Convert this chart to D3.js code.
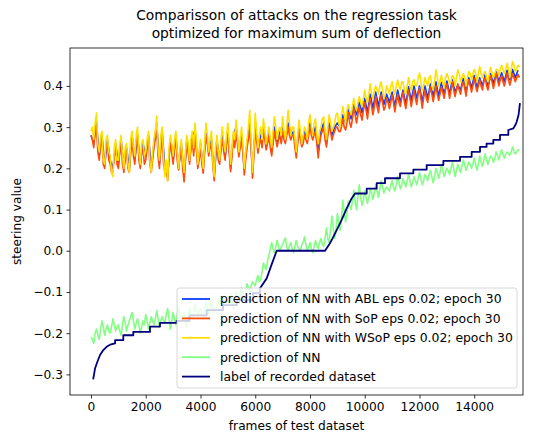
<!DOCTYPE html>
<html>
<head>
<meta charset="utf-8">
<script src="https://cdn.jsdelivr.net/npm/d3@7/dist/d3.min.js"></script>
<style>
    body { margin: 0; background: #fff; }
    svg text { font-family: "DejaVu Sans", sans-serif; fill: #000; }
</style>
</head>
<body>
<svg id="chart" width="539" height="434"></svg>
<script>
// ABL is read every 100 frames (0 .. 15600), the others every 50 frames (0 .. 15650)
const ablStep = 100;
const denseStep = 50;

const ablValues = [
    0.28, 0.26, 0.31, 0.23, 0.28, 0.21, 0.27, 0.22, 0.20, 0.26,
    0.21, 0.27, 0.20, 0.25, 0.20, 0.28, 0.22, 0.28, 0.21, 0.26,
    0.23, 0.28, 0.20, 0.26, 0.31, 0.21, 0.29, 0.20, 0.18, 0.27,
    0.22, 0.28, 0.20, 0.26, 0.18, 0.27, 0.22, 0.28, 0.29, 0.21,
    0.26, 0.20, 0.29, 0.24, 0.27, 0.18, 0.27, 0.22, 0.28, 0.23,
    0.29, 0.20, 0.28, 0.30, 0.24, 0.28, 0.20, 0.26, 0.31, 0.19,
    0.30, 0.25, 0.28, 0.30, 0.26, 0.29, 0.24, 0.30, 0.26, 0.29,
    0.30, 0.27, 0.31, 0.28, 0.29, 0.24, 0.30, 0.26, 0.29, 0.27,
    0.31, 0.28, 0.30, 0.24, 0.29, 0.31, 0.26, 0.31, 0.28, 0.30,
    0.31, 0.30, 0.33, 0.31, 0.346, 0.32, 0.355, 0.33, 0.36, 0.335,
    0.37, 0.335, 0.38, 0.345, 0.385, 0.35, 0.385, 0.355, 0.38, 0.36,
    0.385, 0.35, 0.39, 0.36, 0.39, 0.355, 0.398, 0.365, 0.40, 0.37,
    0.40, 0.36, 0.40, 0.37, 0.405, 0.375, 0.41, 0.375, 0.408, 0.38,
    0.412, 0.38, 0.415, 0.385, 0.402, 0.39, 0.418, 0.385, 0.42, 0.395,
    0.425, 0.395, 0.42, 0.40, 0.428, 0.40, 0.43, 0.405, 0.434, 0.41,
    0.432, 0.41, 0.438, 0.415, 0.44, 0.42, 0.438,
];

const sopValues = [
    0.28, 0.27, 0.25, 0.29, 0.30, 0.24, 0.22, 0.26, 0.27, 0.21, 0.20, 0.25, 0.26, 0.22, 0.21, 0.19, 0.19, 0.23, 0.25, 0.21,
    0.20, 0.24, 0.26, 0.21, 0.19, 0.23, 0.24, 0.20, 0.19, 0.25, 0.27, 0.23, 0.21, 0.26, 0.28, 0.22, 0.20, 0.24, 0.25, 0.21,
    0.22, 0.25, 0.27, 0.21, 0.19, 0.22, 0.25, 0.27, 0.30, 0.23, 0.20, 0.26, 0.28, 0.21, 0.19, 0.20, 0.17, 0.23, 0.26, 0.24,
    0.21, 0.25, 0.27, 0.22, 0.196, 0.23, 0.25, 0.20, 0.167, 0.22, 0.26, 0.24, 0.21, 0.25, 0.27, 0.23, 0.28, 0.25, 0.20, 0.22,
    0.25, 0.21, 0.188, 0.24, 0.28, 0.26, 0.23, 0.25, 0.26, 0.21, 0.17, 0.23, 0.26, 0.22, 0.21, 0.25, 0.27, 0.24, 0.22, 0.26,
    0.28, 0.24, 0.192, 0.23, 0.27, 0.25, 0.29, 0.26, 0.228, 0.25, 0.27, 0.24, 0.184, 0.22, 0.25, 0.27, 0.30, 0.25, 0.176, 0.23,
    0.29, 0.27, 0.237, 0.26, 0.27, 0.25, 0.29, 0.27, 0.245, 0.26, 0.28, 0.25, 0.23, 0.26, 0.29, 0.27, 0.252, 0.27, 0.28, 0.26,
    0.29, 0.27, 0.26, 0.28, 0.30, 0.28, 0.269, 0.28, 0.28, 0.25, 0.225, 0.26, 0.29, 0.27, 0.252, 0.26, 0.28, 0.27, 0.26, 0.28,
    0.30, 0.28, 0.269, 0.28, 0.29, 0.26, 0.225, 0.26, 0.28, 0.29, 0.30, 0.27, 0.252, 0.28, 0.30, 0.29, 0.269, 0.28, 0.29, 0.30,
    0.30, 0.29, 0.289, 0.30, 0.32, 0.30, 0.293, 0.31, 0.335, 0.31, 0.30, 0.32, 0.346, 0.33, 0.31, 0.33, 0.35, 0.33, 0.317, 0.34,
    0.36, 0.34, 0.32, 0.35, 0.37, 0.35, 0.33, 0.35, 0.375, 0.35, 0.335, 0.36, 0.378, 0.36, 0.341, 0.35, 0.37, 0.36, 0.345, 0.36,
    0.378, 0.36, 0.337, 0.36, 0.38, 0.36, 0.35, 0.37, 0.385, 0.36, 0.345, 0.37, 0.39, 0.37, 0.35, 0.37, 0.39, 0.37, 0.355, 0.38,
    0.395, 0.37, 0.346, 0.37, 0.39, 0.37, 0.36, 0.38, 0.398, 0.38, 0.362, 0.38, 0.40, 0.38, 0.365, 0.38, 0.398, 0.385, 0.37, 0.39,
    0.405, 0.39, 0.37, 0.39, 0.41, 0.39, 0.374, 0.39, 0.405, 0.39, 0.38, 0.40, 0.41, 0.395, 0.375, 0.40, 0.415, 0.40, 0.385, 0.40,
    0.419, 0.40, 0.386, 0.40, 0.415, 0.40, 0.39, 0.41, 0.42, 0.40, 0.39, 0.41, 0.425, 0.41, 0.394, 0.41, 0.431, 0.415, 0.40, 0.415,
    0.425, 0.41, 0.40, 0.415, 0.431, 0.415, 0.402, 0.415, 0.43, 0.42, 0.41, 0.42, 0.428, 0.42,
];

const wsopValues = [
    0.29, 0.30, 0.27, 0.31, 0.334, 0.26, 0.24, 0.28, 0.29, 0.22, 0.21, 0.27, 0.28, 0.24, 0.23, 0.19, 0.18, 0.25, 0.27, 0.22,
    0.22, 0.26, 0.28, 0.23, 0.20, 0.25, 0.26, 0.21, 0.19, 0.27, 0.29, 0.25, 0.23, 0.28, 0.30, 0.24, 0.21, 0.26, 0.27, 0.23,
    0.24, 0.27, 0.29, 0.22, 0.19, 0.24, 0.27, 0.29, 0.327, 0.25, 0.22, 0.28, 0.30, 0.23, 0.18, 0.22, 0.17, 0.25, 0.28, 0.26,
    0.23, 0.27, 0.29, 0.24, 0.20, 0.25, 0.27, 0.22, 0.19, 0.24, 0.28, 0.26, 0.22, 0.27, 0.29, 0.25, 0.31, 0.27, 0.21, 0.24,
    0.27, 0.23, 0.20, 0.26, 0.31, 0.28, 0.24, 0.27, 0.29, 0.22, 0.18, 0.25, 0.28, 0.24, 0.22, 0.27, 0.30, 0.26, 0.24, 0.28,
    0.31, 0.26, 0.21, 0.25, 0.29, 0.27, 0.317, 0.28, 0.24, 0.27, 0.30, 0.26, 0.20, 0.24, 0.27, 0.30, 0.341, 0.27, 0.19, 0.25,
    0.334, 0.29, 0.25, 0.28, 0.30, 0.27, 0.32, 0.29, 0.26, 0.28, 0.30, 0.27, 0.25, 0.29, 0.325, 0.30, 0.27, 0.29, 0.30, 0.28,
    0.325, 0.29, 0.27, 0.30, 0.341, 0.31, 0.28, 0.30, 0.30, 0.27, 0.24, 0.28, 0.317, 0.29, 0.26, 0.28, 0.30, 0.29, 0.27, 0.31,
    0.33, 0.30, 0.28, 0.31, 0.32, 0.28, 0.26, 0.29, 0.30, 0.32, 0.325, 0.29, 0.27, 0.30, 0.33, 0.31, 0.29, 0.30, 0.31, 0.33,
    0.334, 0.31, 0.30, 0.33, 0.35, 0.33, 0.31, 0.34, 0.355, 0.34, 0.33, 0.35, 0.37, 0.35, 0.34, 0.36, 0.374, 0.36, 0.35, 0.37,
    0.39, 0.37, 0.36, 0.38, 0.405, 0.38, 0.37, 0.39, 0.40, 0.39, 0.38, 0.40, 0.41, 0.39, 0.37, 0.38, 0.40, 0.39, 0.38, 0.40,
    0.41, 0.39, 0.38, 0.40, 0.414, 0.40, 0.39, 0.41, 0.41, 0.39, 0.38, 0.40, 0.42, 0.40, 0.39, 0.41, 0.415, 0.40, 0.40, 0.42,
    0.431, 0.41, 0.39, 0.40, 0.42, 0.41, 0.40, 0.42, 0.425, 0.40, 0.39, 0.41, 0.439, 0.42, 0.40, 0.41, 0.426, 0.41, 0.395, 0.42,
    0.43, 0.42, 0.405, 0.41, 0.425, 0.42, 0.40, 0.42, 0.439, 0.43, 0.41, 0.42, 0.43, 0.42, 0.40, 0.42, 0.435, 0.43, 0.415, 0.43,
    0.44, 0.43, 0.41, 0.43, 0.447, 0.43, 0.42, 0.43, 0.435, 0.42, 0.41, 0.43, 0.445, 0.43, 0.42, 0.43, 0.44, 0.44, 0.425, 0.44,
    0.45, 0.44, 0.43, 0.44, 0.455, 0.44, 0.42, 0.44, 0.459, 0.45, 0.435, 0.44, 0.45, 0.445,
];

const nnValues = [
    -0.21, -0.215, -0.225, -0.20, -0.19, -0.205, -0.215, -0.19, -0.17, -0.185, -0.205, -0.19, -0.18, -0.195, -0.2, -0.185, -0.165, -0.18, -0.195, -0.185,
    -0.18, -0.195, -0.205, -0.18, -0.16, -0.175, -0.195, -0.18, -0.17, -0.16, -0.15, -0.17, -0.19, -0.175, -0.165, -0.18, -0.2, -0.185, -0.17, -0.18,
    -0.155, -0.17, -0.19, -0.175, -0.16, -0.17, -0.18, -0.165, -0.145, -0.165, -0.185, -0.17, -0.16, -0.17, -0.175, -0.155, -0.14, -0.165, -0.19, -0.17,
    -0.15, -0.165, -0.18, -0.155, -0.135, -0.155, -0.17, -0.16, -0.15, -0.17, -0.185, -0.16, -0.14, -0.155, -0.165, -0.15, -0.13, -0.145, -0.16, -0.15,
    -0.14, -0.155, -0.165, -0.145, -0.125, -0.14, -0.155, -0.14, -0.12, -0.135, -0.15, -0.14, -0.135, -0.125, -0.11, -0.13, -0.145, -0.13, -0.12, -0.125,
    -0.13, -0.115, -0.105, -0.125, -0.14, -0.12, -0.1, -0.11, -0.12, -0.105, -0.09, -0.1, -0.115, -0.1, -0.08, -0.09, -0.1, -0.085, -0.075, -0.08,
    -0.085, -0.07, -0.06, -0.075, -0.07, -0.05, -0.03, -0.04, -0.045, -0.025, -0.01, 0.005, 0.02, 0.005, -0.005, 0.01, 0.025, 0.01, 0.0, 0.01,
    0.015, 0.025, 0.031, 0.01, 0.0, 0.012, 0.02, 0.005, -0.005, 0.01, 0.025, 0.01, 0.005, 0.0, 0.015, 0.02, 0.034, 0.015, 0.0, 0.008,
    0.02, 0.005, -0.005, 0.01, 0.025, 0.012, 0.005, 0.02, 0.03, 0.015, 0.01, 0.03, 0.055, 0.03, 0.02, 0.05, 0.084, 0.055, 0.03, 0.05,
    0.09, 0.07, 0.05, 0.08, 0.123, 0.095, 0.07, 0.09, 0.12, 0.11, 0.1, 0.12, 0.147, 0.12, 0.1, 0.13, 0.16, 0.13, 0.11, 0.125,
    0.145, 0.13, 0.115, 0.13, 0.15, 0.14, 0.125, 0.14, 0.16, 0.145, 0.13, 0.15, 0.17, 0.155, 0.14, 0.15, 0.155, 0.15, 0.145, 0.16,
    0.17, 0.155, 0.145, 0.16, 0.18, 0.165, 0.15, 0.16, 0.175, 0.165, 0.155, 0.17, 0.185, 0.17, 0.155, 0.165, 0.18, 0.17, 0.16, 0.175,
    0.19, 0.175, 0.16, 0.17, 0.185, 0.18, 0.17, 0.185, 0.195, 0.18, 0.165, 0.18, 0.2, 0.19, 0.176, 0.19, 0.21, 0.195, 0.18, 0.19,
    0.2, 0.195, 0.185, 0.2, 0.215, 0.2, 0.18, 0.195, 0.21, 0.2, 0.19, 0.205, 0.22, 0.21, 0.195, 0.205, 0.215, 0.21, 0.2, 0.21,
    0.225, 0.21, 0.196, 0.21, 0.23, 0.215, 0.205, 0.22, 0.235, 0.22, 0.21, 0.22, 0.23, 0.225, 0.215, 0.225, 0.24, 0.23, 0.22, 0.235,
    0.245, 0.235, 0.225, 0.235, 0.24, 0.235, 0.232, 0.24, 0.252, 0.24, 0.235, 0.24, 0.245, 0.243,
];

// recorded label: a staircase, given as its own corner points
const labelFrames = [
    80, 150, 230, 330, 450, 570, 700, 880, 880, 1180, 1180, 1545, 1545,
    2155, 2155, 2520, 2520, 3130, 3130, 3600, 3600, 4227, 4227, 4822, 4822,
    5322, 5322, 5918, 5918, 6174, 6174, 6418, 6600, 6783, 8548, 8700, 8792,
    8974, 9157, 9340, 9522, 9644, 10072, 10072, 10437, 10437, 10740, 10740,
    11288, 11288, 11775, 11775, 12262, 12262, 12871, 12871, 13480, 13480,
    13906, 13906, 14210, 14210, 14450, 14450, 14697, 14697, 14941, 14941,
    15245, 15245, 15430, 15500, 15552, 15620, 15670,
];
const labelValues = [
    -0.312, -0.285, -0.27, -0.253, -0.241, -0.233, -0.228, -0.225, -0.217, -0.217, -0.205, -0.205, -0.197,
    -0.197, -0.184, -0.184, -0.175, -0.175, -0.17, -0.17, -0.157, -0.157, -0.144, -0.144, -0.132,
    -0.132, -0.12, -0.12, -0.103, -0.103, -0.091, -0.067, -0.033, 0.0, 0.0, 0.015, 0.026,
    0.05, 0.075, 0.103, 0.127, 0.139, 0.139, 0.151, 0.151, 0.164, 0.164, 0.176,
    0.176, 0.188, 0.188, 0.197, 0.197, 0.208, 0.208, 0.218, 0.218, 0.228,
    0.228, 0.24, 0.24, 0.252, 0.252, 0.26, 0.26, 0.269, 0.269, 0.281,
    0.281, 0.293, 0.297, 0.305, 0.313, 0.33, 0.358,
];

const xTicks = [0, 2000, 4000, 6000, 8000, 10000, 12000, 14000];
const yTicks = [-0.3, -0.2, -0.1, 0.0, 0.1, 0.2, 0.3, 0.4];

const seriesNames = [
    'prediction of NN with ABL eps 0.02; epoch 30',
    'prediction of NN with SoP eps 0.02; epoch 30',
    'prediction of NN with WSoP eps 0.02; epoch 30',
    'prediction of NN',
    'label of recorded dataset',
];
const seriesColors = ['#0a3cff', '#ff4b0a', '#ffdf00', '#80ff80', '#00007f'];

const plot = { left: 70, right: 523, top: 48, bottom: 395 };
const svg = d3.select('#chart');

const xScale = d3.scaleLinear([-767, 15781], [plot.left, plot.right]);
const yScale = d3.scaleLinear([-0.35, 0.492], [plot.bottom, plot.top]);

const toPoints = (vals, step) => vals.map((v, i) => [i * step, v]);
const allSeries = [
    toPoints(ablValues, ablStep),
    toPoints(sopValues, denseStep),
    toPoints(wsopValues, denseStep),
    toPoints(nnValues, denseStep),
    labelValues.map((v, i) => [labelFrames[i], v]),
];

svg.append('clipPath').attr('id', 'clip').
append('rect').
attr('x', plot.left).attr('y', plot.top).
attr('width', plot.right - plot.left).attr('height', plot.bottom - plot.top);

const line = d3.line().x(d => xScale(d[0])).y(d => yScale(d[1]));

// Lines, drawn in legend order
svg.append('g').attr('clip-path', 'url(#clip)').
selectAll('path').
data(allSeries).
enter().
append('path').
attr('d', d => line(d)).
attr('fill', 'none').
attr('stroke', (d, i) => seriesColors[i]).
attr('stroke-width', (d, i) => i === 4 ? 1.8 : 1.6).
attr('stroke-linejoin', 'round');

// Axes
const fmt = d => (d < 0 ? '\u2212' : '') + d3.format('.1f')(Math.abs(d));
const xAxis = d3.axisBottom(xScale).tickValues(xTicks).tickSize(3.5).tickPadding(3.5).tickFormat(d3.format('d'));
const yAxis = d3.axisLeft(yScale).tickValues(yTicks).tickSize(3.5).tickPadding(3.5).tickFormat(fmt);

const gx = svg.append('g').attr('transform', `translate(0, ${plot.bottom})`).call(xAxis);
const gy = svg.append('g').attr('transform', `translate(${plot.left}, 0)`).call(yAxis);
[gx, gy].forEach(g => {
    g.select('.domain').remove();
    g.selectAll('.tick line').attr('stroke', '#000').attr('stroke-width', 0.8);
    g.selectAll('.tick text').attr('font-size', 12.2).attr('font-family', '"DejaVu Sans", sans-serif').attr('fill', '#000');
});

// Frame
svg.append('rect').
attr('x', plot.left).attr('y', plot.top).
attr('width', plot.right - plot.left).attr('height', plot.bottom - plot.top).
attr('fill', 'none').attr('stroke', '#000').attr('stroke-width', 0.8);

// Axis labels
svg.append('text').
attr('x', (plot.left + plot.right) / 2).attr('y', 430).
attr('text-anchor', 'middle').attr('font-size', 12.2).
text('frames of test dataset');

svg.append('text').
attr('transform', `translate(21, ${(plot.top + plot.bottom) / 2}) rotate(-90)`).
attr('text-anchor', 'middle').attr('font-size', 12.2).
text('steering value');

// Title
const titleLines = ['Comparisson of attacks on the regression task', 'optimized for maximum sum of deflection'];
svg.selectAll('.title').
data(titleLines).
enter().
append('text').
attr('class', 'title').
attr('x', (plot.left + plot.right) / 2).
attr('y', (d, i) => 20 + i * 18).
attr('text-anchor', 'middle').
attr('font-size', 13.8).
text(d => d);

// Legend
const legend = svg.append('g').attr('transform', 'translate(177, 288)');
legend.append('rect').
attr('width', 340).attr('height', 100).
attr('rx', 2.5).
attr('fill', '#fff').attr('fill-opacity', 0.8).
attr('stroke', '#ccc').attr('stroke-width', 0.8);

const rows = legend.selectAll('.row').
data(seriesNames).
enter().
append('g').
attr('transform', (d, i) => `translate(0, ${11 + i * 19.4})`);
rows.append('line').
attr('x1', 5).attr('x2', 33).
attr('stroke', (d, i) => seriesColors[i]).
attr('stroke-width', 1.8);
rows.append('text').
attr('x', 43).attr('y', 4.4).
attr('font-size', 12.4).
text(d => d);
</script>
</body>
</html>
